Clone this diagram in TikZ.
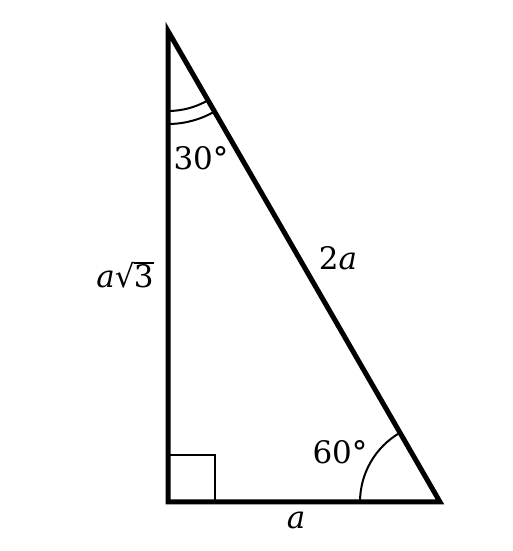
\documentclass[tikz,border=0pt]{standalone}
\usepackage{fontspec}
\setmainfont{DejaVu Serif}
\newcommand{\rootbar}[1]{\vbox{\hrule height 0.06em\kern 0.02em\hbox{#1}}}
\begin{document}
\begin{tikzpicture}[x=1pt,y=1pt,line join=miter]
        \useasboundingbox (0,0) rectangle (512,551);
        \coordinate (C) at (168,49);
        \coordinate (B) at (440,49);
        \coordinate (A) at (168,520);
        \begin{scope}[line width=2pt]
            \draw (168,96) -- (215,96) -- (215,49);
            \draw ([shift={(270:80)}]A) arc (270:300:80);
            \draw ([shift={(270:93)}]A) arc (270:300:93);
            \draw ([shift={(180:80)}]B) arc (180:120:80);
        \end{scope}
        \draw[line width=5pt] (A) -- (C) -- (B) -- cycle;
        \node (t30) at (201,393) {\fontsize{31}{36}\selectfont 30°};
        \node (t60) at (340,99) {\fontsize{31}{36}\selectfont 60°};
        \node (hyp) at (338,293) {\fontsize{31}{36}\selectfont 2\textit{a}};
        \node (leg) at (125,276) {\fontsize{31}{36}\selectfont \textit{a}√\kern-0.02em\rootbar{3}};
        \node (base) at (296,31) {\fontsize{31}{36}\selectfont \textit{a}};
    \end{tikzpicture}
\end{document}
